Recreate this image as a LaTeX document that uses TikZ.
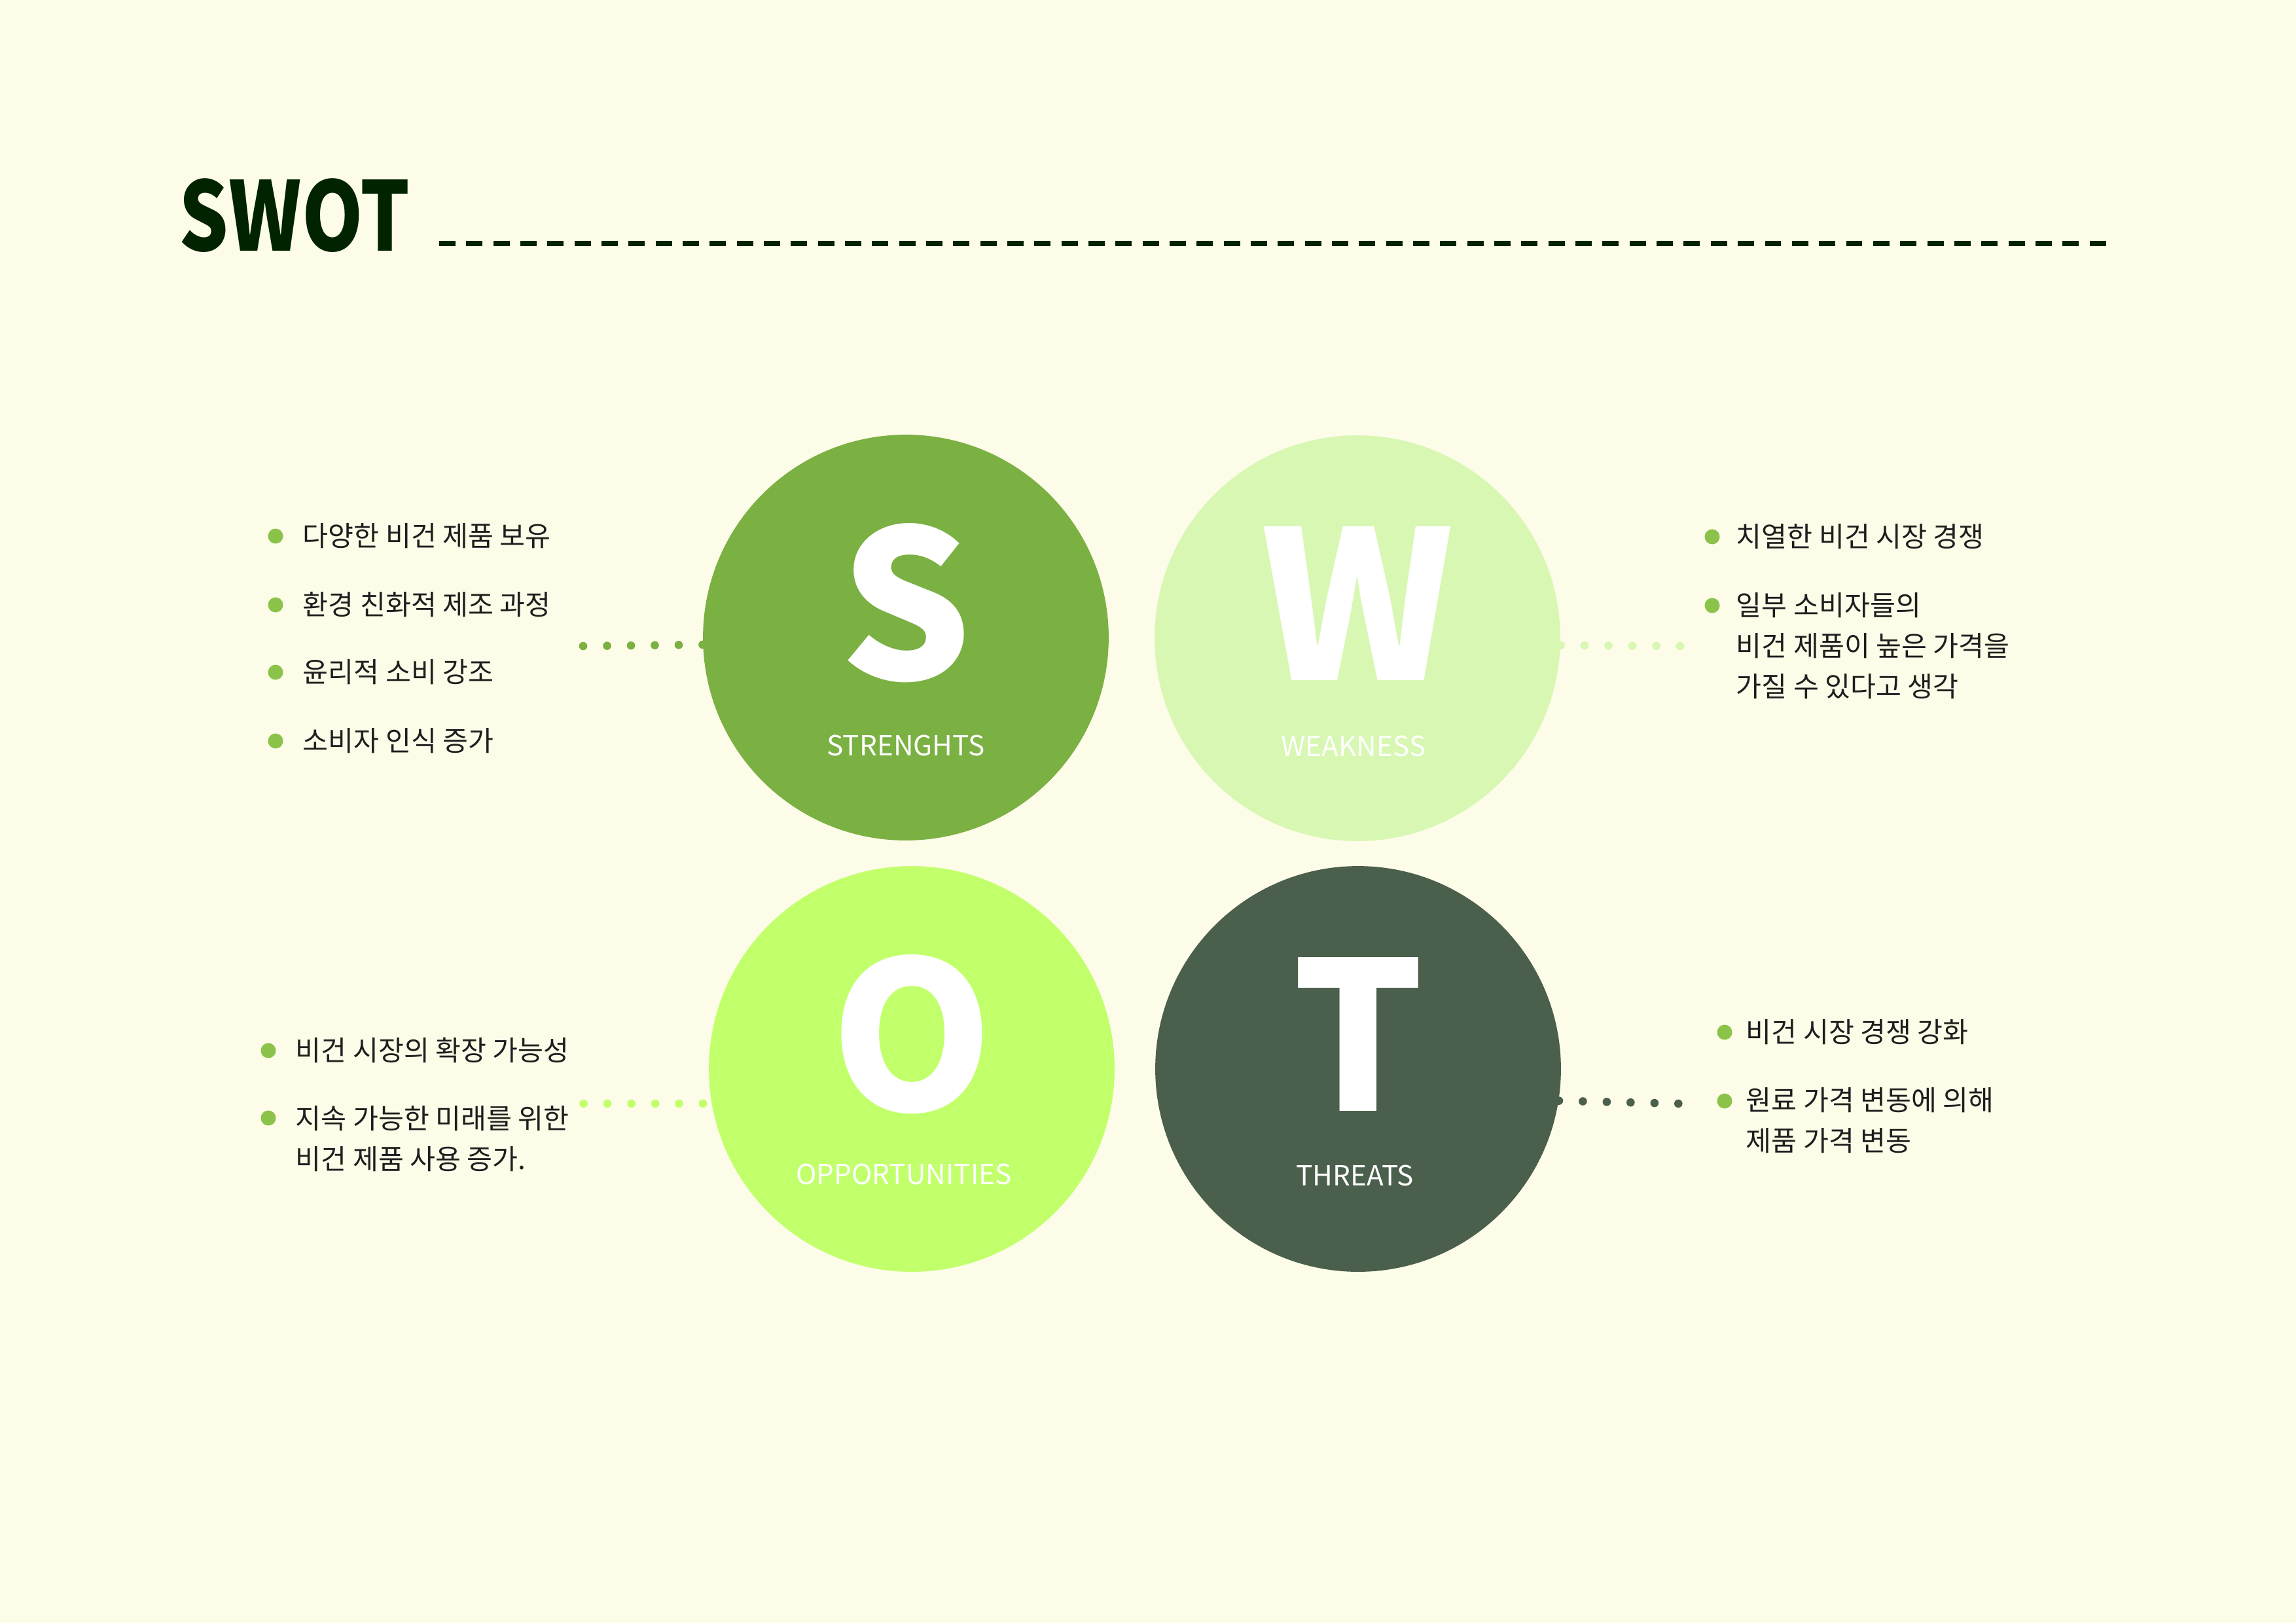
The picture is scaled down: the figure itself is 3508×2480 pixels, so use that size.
\documentclass[tikz,border=0pt]{standalone}
\usepackage{fontspec}
\setmainfont{Noto Sans CJK KR}
\usepackage{graphicx}
\usepackage{tikz}
\usetikzlibrary{calc}

\definecolor{paper}{HTML}{FDFCE8}
\definecolor{titlegreen}{HTML}{012300}
\definecolor{sgreen}{HTML}{7BB042}
\definecolor{wgreen}{HTML}{D7F7B3}
\definecolor{ogreen}{HTML}{C1FF6B}
\definecolor{tgreen}{HTML}{4A5F4C}
\definecolor{dotgreen}{HTML}{8BC34A}
\definecolor{ink}{HTML}{1E1E1E}

\begin{document}
\begin{tikzpicture}[
  x=0.0084664cm, y=-0.0084664cm,
  swot/.style={circle, minimum size=5.249cm, inner sep=0pt},
  letter/.style={anchor=base, text=white, inner sep=0pt, font=\fontsize{76pt}{76pt}\selectfont\bfseries},
  caption/.style={anchor=base, text=white, inner sep=0pt, font=\fontsize{10.2pt}{12pt}\selectfont},
  bullet/.style={circle, fill=dotgreen, minimum size=0.195cm, inner sep=0pt},
  item/.style={anchor=base west, align=left, text=ink, inner sep=0pt, font=\fontsize{10.2pt}{14.9pt}\selectfont},
  dotlink/.style={line width=3.04pt, line cap=round, dash pattern=on 0pt off 8.79pt},
  rule/.style={line width=2.1pt, titlegreen, dash pattern=on 6.02pt off 3.94pt}
]

% Page
\fill[paper] (0,0) rectangle (3508,2480);
\useasboundingbox (0,0) rectangle (3508,2480);

% Title
\node[anchor=north west, inner sep=0pt, text=titlegreen] (title) at (273,272) {\resizebox{85pt}{26.7pt}{\bfseries SWOT}};
\coordinate (ruleA) at (671,372);
\coordinate (ruleB) at (3219,372);
\draw[rule] (ruleA) -- (ruleB);

% --- The four circles ---
\node[swot, fill=sgreen] (S) at (1384,974) {};
\node[swot, fill=wgreen] (W) at (2074,975) {};
\node[swot, fill=ogreen] (O) at (1393,1633) {};
\node[swot, fill=tgreen] (T) at (2075,1633) {};

\node[letter] (sLetter) at ($(S)+(0,64)$) {S};
\node[letter] (wLetter) at ($(W)+(0,64)$) {W};
\node[letter] (oLetter) at ($(O)+(0,64)$) {O};
\node[letter] (tLetter) at ($(T)+(0,64)$) {T};

\node[caption] (sCaption) at ($(S)+(0,180)$) {STRENGHTS};
\node[caption] (wCaption) at ($(W)+(-6,180)$) {WEAKNESS};
\node[caption] (oCaption) at ($(O)+(-12,176)$) {OPPORTUNITIES};
\node[caption] (tCaption) at ($(T)+(-5,178)$) {THREATS};

% --- Dotted links ---
\coordinate (sEnd) at (891,987);
\coordinate (wEnd) at (2568,987);
\coordinate (oStart) at (1074,1686);
\coordinate (oEnd) at (891,1686);
\coordinate (tEnd) at (2566,1686);
\draw[dotlink, sgreen] (S.182.4) -- (sEnd);
\draw[dotlink, wgreen] (W.-2.2) -- (wEnd);
\draw[dotlink, ogreen] (oStart) -- (oEnd);
\draw[dotlink, tgreen] (T.-9.8) -- (tEnd);

% --- Strengths list ---
\node[bullet] (s1b) at (421,819) {};
\node[item] (s1) at (462,834) {다양한 비건 제품 보유};
\node[bullet] (s2b) at (421,924) {};
\node[item] (s2) at (462,939) {환경 친화적 제조 과정};
\node[bullet] (s3b) at (421,1027) {};
\node[item] (s3) at (462,1042) {윤리적 소비 강조};
\node[bullet] (s4b) at (421,1132) {};
\node[item] (s4) at (462,1147) {소비자 인식 증가};

% --- Weakness list (multi-line: base = last line) ---
\node[bullet] (w1b) at (2616,820) {};
\node[item] (w1) at (2652,835) {치열한 비건 시장 경쟁};
\node[bullet] (w2b) at (2616,925) {};
\node[item] (w2) at (2652,1064) {일부 소비자들의\\비건 제품이 높은 가격을\\가질 수 있다고 생각};

% --- Opportunities list ---
\node[bullet] (o1b) at (410,1605) {};
\node[item] (o1) at (451,1620) {비건 시장의 확장 가능성};
\node[bullet] (o2b) at (410,1708) {};
\node[item] (o2) at (451,1786) {지속 가능한 미래를 위한\\비건 제품 사용 증가.};

% --- Threats list ---
\node[bullet] (t1b) at (2635,1577) {};
\node[item] (t1) at (2667,1592) {비건 시장 경쟁 강화};
\node[bullet] (t2b) at (2635,1682) {};
\node[item] (t2) at (2667,1758) {원료 가격 변동에 의해\\제품 가격 변동};

\end{tikzpicture}
\end{document}
